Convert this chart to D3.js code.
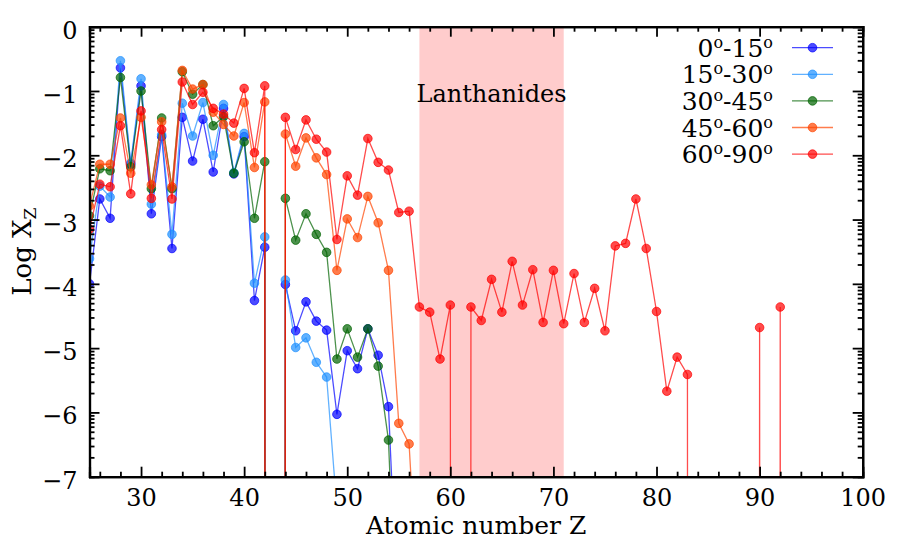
<!DOCTYPE html>
<html>
<head>
<meta charset="utf-8">
<script src="https://cdn.jsdelivr.net/npm/d3@7"></script>
<style>
  html, body { margin: 0; padding: 0; background: #fff; }
  svg { display: block; }
  text { font-family: "DejaVu Serif", serif; fill: #000; }
</style>
</head>
<body>
<svg id="chart" width="900" height="540"></svg>
<script>
// ---- data: log10 abundance X_Z, first entry is Z = 25; null = zero abundance ----
const zStart = 25;
const seriesNames = ["0-15", "15-30", "30-45", "45-60", "60-90"];
const deg0_15 = [-4.00, -2.68, -2.98, -0.64, -2.14, -0.92, -2.91, -1.71, -3.45, -1.41,
  -2.09, -1.44, -2.26, -1.27, -2.29, -1.71, -4.26, -3.43, null, -4.01,
  -4.73, -4.28, -4.58, -4.72, -6.03, -5.04, -5.32, -4.70, -5.11, -5.91, -9.5];
const deg15_30 = [-3.61, -2.48, -2.65, -0.53, -2.12, -0.81, -2.76, -1.68, -3.23, -1.19,
  -1.70, -1.18, -2.00, -1.21, -2.27, -1.66, -3.99, -3.27, null, -3.94,
  -4.99, -4.84, -5.22, -5.45, -7.5];
const deg30_45 = [-2.94, -2.21, -2.24, -0.79, -2.18, -1.00, -2.52, -1.42, -2.52, -0.70,
  -1.05, -0.90, -1.54, -1.40, -2.28, -1.79, -2.98, -2.10, null, -2.67,
  -3.32, -2.91, -3.23, -3.51, -5.17, -4.70, -5.14, -4.70, -5.28, -6.43, -10.4];
const deg45_60 = [-2.79, -2.14, -2.14, -1.42, -2.28, -1.41, -2.46, -1.48, -2.49, -0.68,
  -0.97, -0.90, -1.33, -1.52, -1.70, -1.18, -2.19, -1.17, null, -1.67,
  -2.17, -1.73, -2.04, -2.30, -3.79, -2.99, -3.28, -2.64, -3.05, -3.79,
  -6.17, -6.49, -9.3];
const deg60_90 = [-3.15, -2.45, -2.49, -1.54, -2.60, -1.31, -2.67, -1.60, -2.68, -0.86,
  -1.21, -1.02, -1.27, -1.36, -1.50, -0.96, -1.96, -0.92, null, -1.41,
  -1.91, -1.45, -1.75, -1.95, -3.31, -2.32, -2.62, -1.74, -2.11, -2.23,
  -2.89, -2.87, -4.36, -4.44, -5.17, -4.33, null, -4.36, -4.57, -3.93,
  -4.44, -3.65, -4.33, -3.78, -4.60, -3.79, -4.62, -3.84, -4.60, -4.07,
  -4.73, -3.41, -3.37, -2.68, -3.45, -4.43, -5.67, -5.14, -5.41, null,
  null, null, null, null, null, -4.68, null, -4.36, null];
const lanthanideRange = [57, 71];
const xDomain = [25, 100];
const yDomain = [-7, 0];
const xMajorTicks = [30, 40, 50, 60, 70, 80, 90, 100];
const yMajorTicks = [0, -1, -2, -3, -4, -5, -6, -7];

// ---- layout / style ----
const W = 900, H = 540;
const margin = { left: 89.5, right: 37.3, top: 26.7, bottom: 63.3 };
const colors = ["#0000ff", "#1e90ff", "#006400", "#ff4500", "#ff0000"];
const allSeries = [deg0_15, deg15_30, deg30_45, deg45_60, deg60_90];
const FLOOR = -300; // log of a vanishing abundance

const svg = d3.select("#chart");
const x = d3.scaleLinear().domain(xDomain).range([margin.left, W - margin.right]);
const y = d3.scaleLinear().domain(yDomain).range([H - margin.bottom, margin.top]);

svg.append("defs").append("clipPath").attr("id", "plotclip")
  .append("rect")
  .attr("x", x(xDomain[0])).attr("y", y(yDomain[1]))
  .attr("width", x(xDomain[1]) - x(xDomain[0]))
  .attr("height", y(yDomain[0]) - y(yDomain[1]));

const plot = svg.append("g").attr("clip-path", "url(#plotclip)");

// lanthanides band
plot.append("rect")
  .attr("x", x(lanthanideRange[0]))
  .attr("y", y(yDomain[1]))
  .attr("width", x(lanthanideRange[1]) - x(lanthanideRange[0]))
  .attr("height", y(yDomain[0]) - y(yDomain[1]))
  .attr("fill", "#ff0000").attr("fill-opacity", 0.2);

svg.append("text")
  .attr("x", x((lanthanideRange[0] + lanthanideRange[1]) / 2))
  .attr("y", 102)
  .attr("text-anchor", "middle")
  .attr("font-size", 24)
  .text("Lanthanides");

const line = d3.line()
  .x(d => x(d.z))
  .y(d => y(d.v === null ? FLOOR : d.v));

allSeries.forEach((arr, i) => {
  const pts = arr.map((v, k) => ({ z: zStart + k, v: v }));
  plot.append("path")
    .attr("d", line(pts))
    .attr("fill", "none")
    .attr("stroke", colors[i])
    .attr("stroke-opacity", 0.7)
    .attr("stroke-width", 1.3);
  plot.selectAll(null)
    .data(pts.filter(p => p.v !== null))
    .enter().append("circle")
    .attr("cx", d => x(d.z))
    .attr("cy", d => y(d.v))
    .attr("r", 4.3)
    .attr("fill", colors[i]).attr("fill-opacity", 0.7)
    .attr("stroke", colors[i]).attr("stroke-opacity", 0.7)
    .attr("stroke-width", 1);
});

// ---- axes ----
const xMinor = d3.range(26, 100, 2).filter(v => v % 10 !== 0);
const yMinor = [];
for (let n = -7; n < 0; n++) for (let k = 2; k <= 9; k++) yMinor.push(n + Math.log10(k));

function addAxis(axis, translate, major, minor, labels) {
  const g = svg.append("g").attr("transform", translate);
  g.call(axis.tickValues(minor).tickSize(5).tickFormat(""));
  const g2 = svg.append("g").attr("transform", translate);
  g2.call(axis.tickValues(major).tickSize(10).tickFormat(labels ? d3.format("d") : ""));
  [g, g2].forEach(gg => {
    gg.selectAll(".tick line").attr("stroke", "#000").attr("stroke-width", 1.8);
    gg.select(".domain").attr("stroke", "#000").attr("stroke-width", 2.2);
  });
  return g2;
}

const xb = addAxis(d3.axisTop(x), `translate(0,${y(yDomain[0])})`, xMajorTicks, xMinor, true);
xb.selectAll(".tick text").attr("y", 29.5).attr("font-size", 24)
  .attr("font-family", "DejaVu Serif").attr("dy", 0);
addAxis(d3.axisBottom(x), `translate(0,${y(yDomain[1])})`, xMajorTicks, xMinor, false);
const yl = addAxis(d3.axisRight(y), `translate(${x(xDomain[0])},0)`, yMajorTicks, yMinor, true);
yl.selectAll(".tick text").attr("x", -12).attr("text-anchor", "end")
  .attr("font-size", 24).attr("font-family", "DejaVu Serif").attr("dy", "0.48em");
addAxis(d3.axisLeft(y), `translate(${x(xDomain[1])},0)`, yMajorTicks, yMinor, false);

// axis titles
svg.append("text")
  .attr("x", (x(xDomain[0]) + x(xDomain[1])) / 2)
  .attr("y", 534)
  .attr("text-anchor", "middle").attr("font-size", 25)
  .text("Atomic number Z");

const ylab = svg.append("text")
  .attr("transform", `translate(31,${(y(yDomain[0]) + y(yDomain[1])) / 2}) rotate(-90)`)
  .attr("text-anchor", "middle").attr("font-size", 26);
ylab.append("tspan").text("Log X");
ylab.append("tspan").attr("font-size", 17).attr("dy", 5).text("Z");

// legend
const legend = svg.append("g");
seriesNames.forEach((name, i) => {
  const cy = 47.7 + i * 26.6;
  const parts = name.split("-");
  const t = legend.append("text")
    .attr("x", 773).attr("y", cy + 9)
    .attr("text-anchor", "end").attr("font-size", 25);
  t.append("tspan").text(parts[0]);
  t.append("tspan").attr("font-size", 16).attr("dy", -9).text("o");
  t.append("tspan").attr("dy", 9).text("-" + parts[1]);
  t.append("tspan").attr("font-size", 16).attr("dy", -9).text("o");
  legend.append("line")
    .attr("x1", 792).attr("x2", 833).attr("y1", cy).attr("y2", cy)
    .attr("stroke", colors[i]).attr("stroke-opacity", 0.7).attr("stroke-width", 1.3);
  legend.append("circle")
    .attr("cx", 812.5).attr("cy", cy).attr("r", 4.3)
    .attr("fill", colors[i]).attr("fill-opacity", 0.7)
    .attr("stroke", colors[i]).attr("stroke-opacity", 0.7);
});
</script>
</body>
</html>
